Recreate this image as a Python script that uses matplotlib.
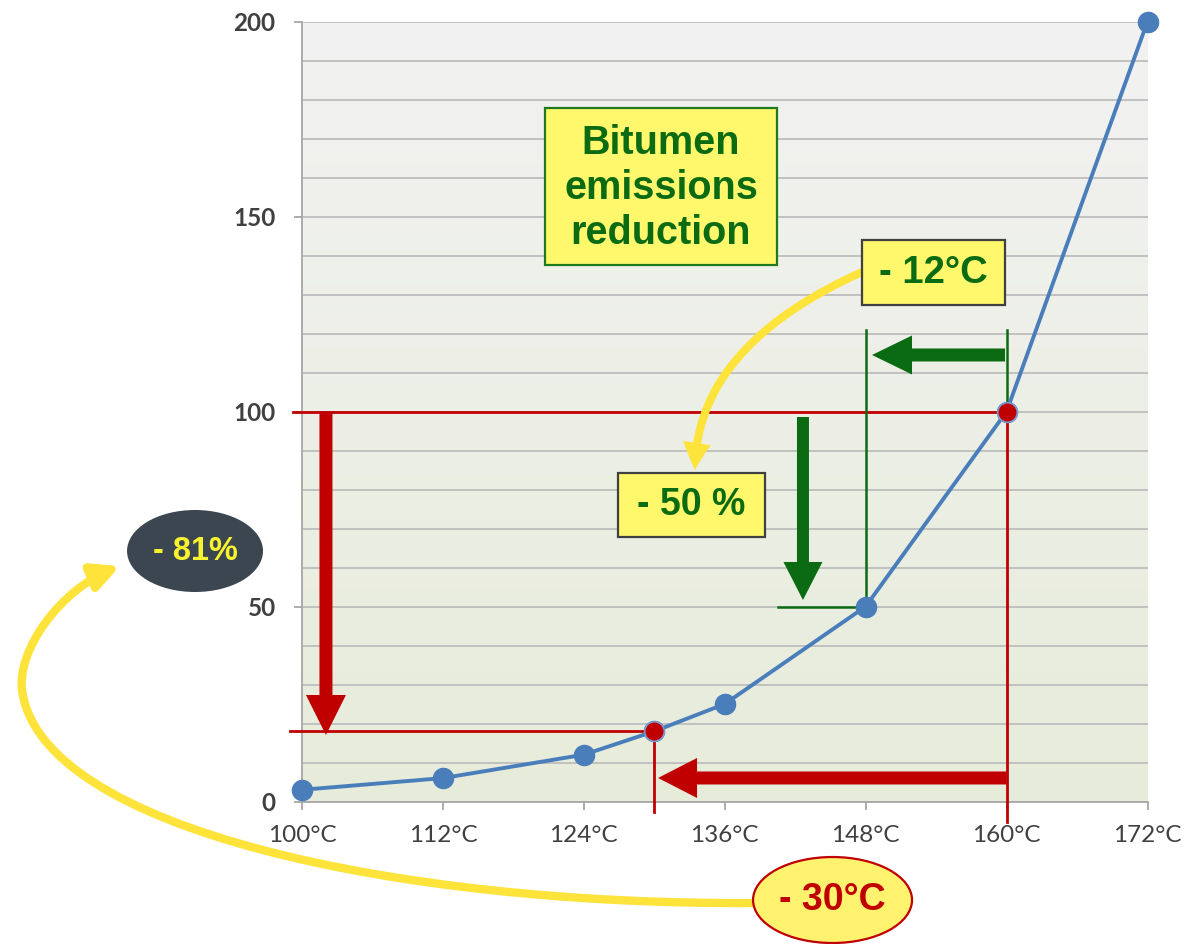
import numpy as np
import matplotlib
matplotlib.use('Agg')
import matplotlib.pyplot as plt
from matplotlib.patches import FancyArrowPatch, Rectangle, Ellipse
from matplotlib.path import Path
from matplotlib.colors import LinearSegmentedColormap
from matplotlib.ticker import MultipleLocator

# ---------------- data ----------------
temps = [100, 112, 124, 130, 136, 148, 160, 172]
emissions = [3, 6, 12, 18, 25, 50, 100, 200]
highlight_temps = [130, 160]
highlight_emissions = [18, 100]
half_temp = 148
half_emission = 50
xticks = [100, 112, 124, 136, 148, 160, 172]
xticklabels = ['100°C', '112°C', '124°C', '136°C', '148°C', '160°C', '172°C']
yticks = [0, 50, 100, 150, 200]
yticklabels = ['0', '50', '100', '150', '200']

# ---------------- style ----------------
BLUE = '#4a7ebb'
RED = '#c00000'
GREEN = '#0b6b12'
YELLOW_BOX = '#fff76c'
YELLOW_ARROW = '#fde33a'
GREY_TXT = '#404040'
ANN_FONT = 'Liberation Sans'
TICK_FONT = 'Lato'
PX = 0.72  # mutation scale -> 1 unit = 1 pixel at dpi 100

fig = plt.figure(figsize=(11.86, 9.44), dpi=100)
ax = fig.add_axes([302 / 1186, 1 - 801.5 / 944, 845.5 / 1186, 780 / 944])

# background gradient
grad = np.linspace(0, 1, 256).reshape(-1, 1)
cmap = LinearSegmentedColormap.from_list('bg', ['#f2f2f2', '#e7ecda'])
ax.imshow(grad, extent=[0, 1, 0, 1], transform=ax.transAxes, cmap=cmap,
          aspect='auto', zorder=0)

ax.set_xlim(100, 172)
ax.set_ylim(0, 200)

# grid
ax.yaxis.set_minor_locator(MultipleLocator(10))
ax.set_axisbelow(True)
ax.yaxis.grid(True, which='both', color='#bdbdbd', lw=1.3)
ax.tick_params(axis='y', which='minor', length=0)

for s in ['top', 'right']:
    ax.spines[s].set_visible(False)
for s in ['left', 'bottom']:
    ax.spines[s].set_color('#a6a6a6')
    ax.spines[s].set_linewidth(1.3)

ax.set_xticks(xticks)
ax.set_xticklabels(xticklabels, fontsize=17.5, family=TICK_FONT, color=GREY_TXT)
ax.set_yticks(yticks)
ax.set_yticklabels(yticklabels, fontsize=17.5, family=TICK_FONT, color=GREY_TXT,
                   fontweight='bold')
ax.tick_params(axis='both', which='major', length=6, width=1.3, color='#a6a6a6')
ax.tick_params(axis='x', which='major', pad=11)
ax.tick_params(axis='y', which='major', pad=13)

# ---------------- guide lines ----------------
t_low, t_high = highlight_temps
e_low, e_high = highlight_emissions
ax.plot([99.23, t_high], [e_high, e_high], color=RED, lw=2, clip_on=False, zorder=3)
ax.plot([t_high, t_high], [e_high, -5.26], color=RED, lw=2, clip_on=False, zorder=3)
ax.plot([98.98, t_low], [e_low, e_low], color=RED, lw=2, clip_on=False, zorder=3)
ax.plot([t_low, t_low], [e_low, -2.69], color=RED, lw=2, clip_on=False, zorder=3)

ax.plot([half_temp, half_temp], [120.9, half_emission], color=GREEN, lw=1.8, zorder=3)
ax.plot([t_high, t_high], [120.9, e_high], color=GREEN, lw=1.8, zorder=3)
ax.plot([140.53, half_temp], [half_emission, half_emission], color=GREEN, lw=1.8, zorder=3)

# ---------------- data series ----------------
ax.plot(temps, emissions, color=BLUE, lw=2.8, marker='o', ms=14.5,
        mfc=BLUE, mec=BLUE, zorder=5, clip_on=False)
ax.plot(highlight_temps, highlight_emissions, 'o', ms=14, mfc=RED,
        mec='#7ea3d6', mew=1.0, zorder=6, clip_on=False)


# ---------------- block arrows ----------------
def block_arrow(start, end, color, shaft, head_w, head_l):
    ax.add_patch(FancyArrowPatch(
        start, end,
        arrowstyle=f'simple,tail_width={shaft},head_width={head_w},head_length={head_l}',
        mutation_scale=PX, facecolor=color, edgecolor='none', lw=0,
        shrinkA=0, shrinkB=0, clip_on=False, zorder=4, transform=ax.transData))


block_arrow((102.04, e_high), (102.04, 17.05), RED, 13, 40, 40)
block_arrow((t_high, 6.03), (130.32, 6.03), RED, 13, 40, 39)
block_arrow((159.87, 114.49), (148.54, 114.49), GREEN, 13, 39, 40)
block_arrow((142.66, 98.59), (142.66, 51.67), GREEN, 12, 39, 38)

# small curved yellow arrow (-12°C -> -50 %)
small_path = Path([(147.69, 135.77), (133.47, 116.54), (133.47, 85.0)],
                  [Path.MOVETO, Path.CURVE3, Path.CURVE3])
ax.add_patch(FancyArrowPatch(
    path=small_path,
    arrowstyle='simple,tail_width=8,head_width=28,head_length=27',
    mutation_scale=PX, facecolor=YELLOW_ARROW, edgecolor='none', lw=0,
    clip_on=False, zorder=6, transform=ax.transData))

# big curved yellow arrow (-30°C -> -81%)
big_path = Path([(138.32, -26.03), (108.35, -26.54), (77.69, -7.31), (76.16, 28.59),
                 (75.73, 38.85), (79.39, 54.23), (84.50, 60.38)],
                [Path.MOVETO, Path.CURVE4, Path.CURVE4, Path.CURVE4,
                 Path.CURVE4, Path.CURVE4, Path.CURVE4])
ax.add_patch(FancyArrowPatch(
    path=big_path,
    arrowstyle='-|>,head_length=22,head_width=11',
    mutation_scale=PX, color=YELLOW_ARROW, lw=6,
    clip_on=False, zorder=6, transform=ax.transData))

# ---------------- boxes / labels ----------------
ax.add_patch(Rectangle((120.69, 137.56), 140.45 - 120.69, 177.82 - 137.56,
                       facecolor=YELLOW_BOX, edgecolor='#1e7a1e', lw=1.6,
                       zorder=7, clip_on=False))
ax.text(130.57, 157.4, 'Bitumen\nemissions\nreduction', ha='center', va='center',
        fontsize=28.5, fontweight='bold', family=ANN_FONT, color=GREEN,
        linespacing=1.23, zorder=8)

ax.add_patch(Rectangle((147.69, 127.31), 159.87 - 147.69, 143.97 - 127.31,
                       facecolor=YELLOW_BOX, edgecolor='#404040', lw=1.6,
                       zorder=7, clip_on=False))
ax.text(153.78, 135.64, '- 12°C', ha='center', va='center', fontsize=27.5,
        fontweight='bold', family=ANN_FONT, color=GREEN, zorder=8)

ax.add_patch(Rectangle((126.91, 67.82), 139.43 - 126.91, 84.23 - 67.82,
                       facecolor=YELLOW_BOX, edgecolor='#404040', lw=1.6,
                       zorder=7, clip_on=False))
ax.text(133.17, 76.03, '- 50 %', ha='center', va='center', fontsize=27,
        fontweight='bold', family=ANN_FONT, color=GREEN, zorder=8)

ax.add_patch(Ellipse((90.89, 64.23), 11.58, 21.03, facecolor='#3b4650',
                     edgecolor='none', zorder=7, clip_on=False))
ax.text(90.89, 64.23, '- 81%', ha='center', va='center', fontsize=23.5,
        fontweight='bold', family=ANN_FONT, color='#f7f32e', zorder=8)

ax.add_patch(Ellipse((145.18, -25.26), 13.54, 22.05, facecolor='#fff26e',
                     edgecolor=RED, lw=1.6, zorder=7, clip_on=False))
ax.text(145.18, -25.26, '- 30°C', ha='center', va='center', fontsize=27,
        fontweight='bold', family=ANN_FONT, color=RED, zorder=8)

fig.savefig('out.png', dpi=100)
